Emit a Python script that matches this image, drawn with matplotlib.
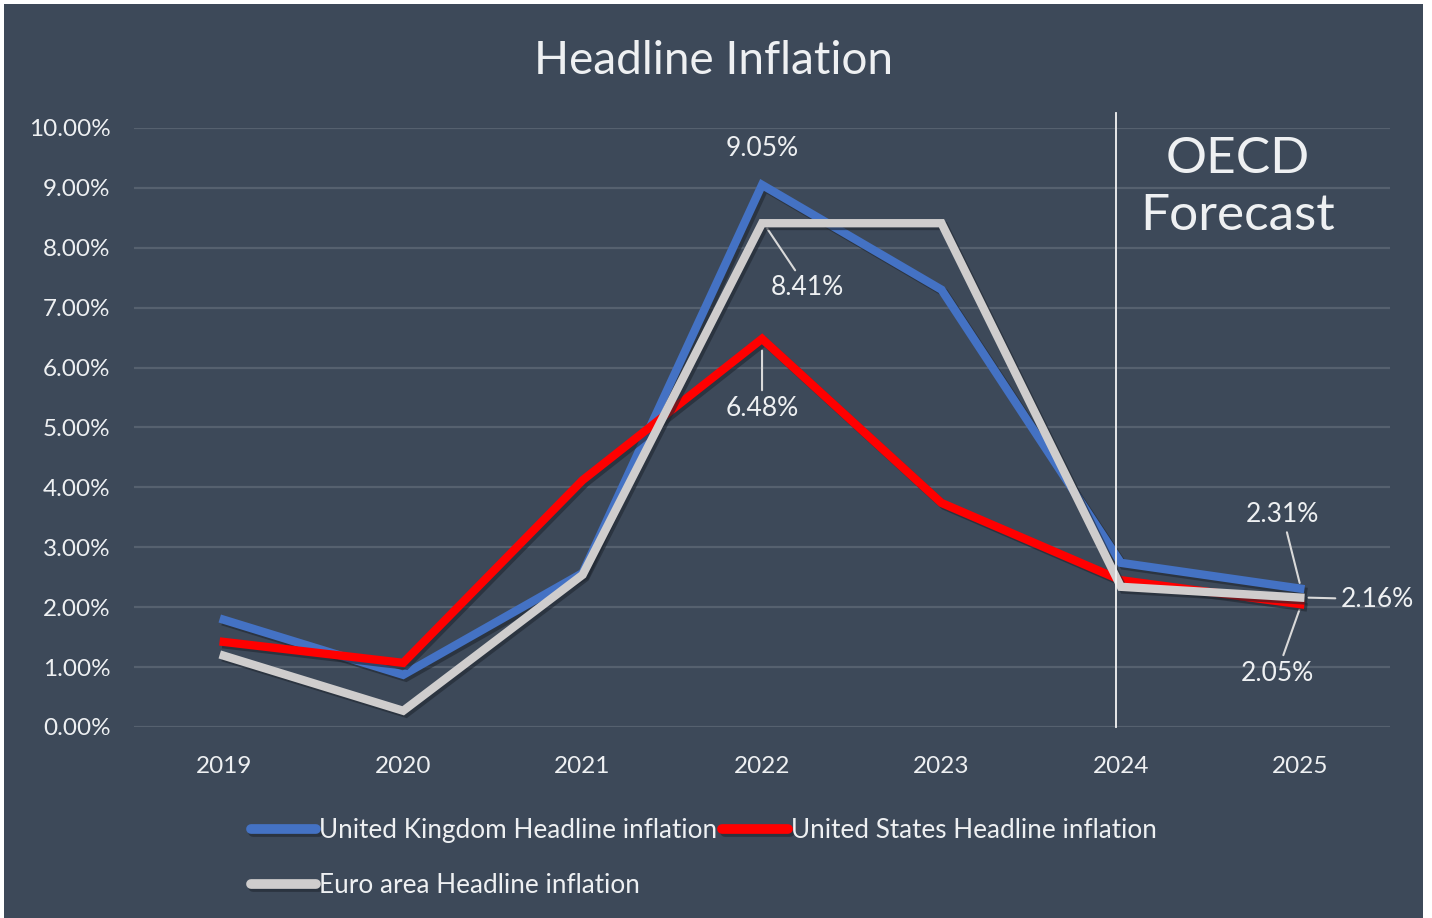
import matplotlib
matplotlib.use("Agg")
import matplotlib.pyplot as plt
import matplotlib.patheffects as pe
from matplotlib.patches import Rectangle

# =========================
# DATOS
# =========================
years = ["2019", "2020", "2021", "2022", "2023", "2024", "2025"]
uk = [1.79, 0.87, 2.57, 9.05, 7.30, 2.74, 2.31]
us = [1.42, 1.07, 4.12, 6.48, 3.74, 2.45, 2.05]
euro = [1.19, 0.27, 2.54, 8.41, 8.41, 2.34, 2.16]
yticks = [0, 1, 2, 3, 4, 5, 6, 7, 8, 9, 10]

BG = "#3d4959"
GRID = "#56616f"
TXT = "#eef0f2"
BLUE = "#4472c4"
RED = "#ff0000"
GREY = "#cfcdcd"

plt.rcParams["font.family"] = ["Lato", "DejaVu Sans"]

W, H = 1432, 918
fig = plt.figure(figsize=(W / 100, H / 100), dpi=100, facecolor="white")
# fondo oscuro con un pequeño margen blanco (arriba, izquierda, derecha)
fig.patches.append(Rectangle((4 / W, 0), (1423 - 4) / W, (H - 4) / H, transform=fig.transFigure,
                             facecolor=BG, edgecolor="none", zorder=-10))

ax = fig.add_axes([0.0936, 0.2081, 0.8771, 0.6525])
ax.set_facecolor(BG)

x = list(range(len(years)))
shadow = [pe.SimpleLineShadow(offset=(2, -2), shadow_color="#1f2630", alpha=0.6), pe.Normal()]
l_uk, = ax.plot(x, uk, color=BLUE, lw=6, solid_joinstyle="miter",
                label="United Kingdom Headline inflation", path_effects=shadow, zorder=3)
l_us, = ax.plot(x, us, color=RED, lw=6, solid_joinstyle="miter",
                label="United States Headline inflation", path_effects=shadow, zorder=4)
l_eu, = ax.plot(x, euro, color=GREY, lw=6, solid_joinstyle="miter",
                label="Euro area Headline inflation", path_effects=shadow, zorder=5)

ax.set_xlim(-0.5, len(years) - 0.5)
ax.set_ylim(0, 10)
ax.set_xticks(x)
ax.set_xticklabels(years)
ax.set_yticks(yticks)
ax.set_yticklabels([f"{v:.2f}%" for v in yticks])
ax.tick_params(colors=TXT, labelsize=17.5, length=0)
ax.tick_params(axis="x", pad=21)
ax.tick_params(axis="y", pad=17)
for s in ax.spines.values():
    s.set_visible(False)
ax.grid(axis="y", color=GRID, lw=1.6)
ax.set_axisbelow(True)

# linea de prevision
ax.plot([4.97, 4.97], [0, 10.25], color="#f4f4f4", lw=1.3, clip_on=False, zorder=6)
ax.text(5.65, 9.0, "OECD\nForecast", color=TXT, fontsize=37, ha="center", va="center",
        linespacing=1.3)

# etiquetas
lab = dict(color=TXT, fontsize=19, ha="center", va="center")
lead = dict(arrowstyle="-", color="#d9d9d9", lw=1.5)
ax.annotate(f"{uk[3]:.2f}%", (3, uk[3]), xytext=(3, 9.65), **lab)
ax.annotate(f"{euro[3]:.2f}%", (3.02, euro[3] - 0.05), xytext=(3.25, 7.33), arrowprops=lead, **lab)
ax.annotate(f"{us[3]:.2f}%", (3, us[3] - 0.15), xytext=(3, 5.32), arrowprops=lead, **lab)
ax.annotate(f"{uk[6]:.2f}%", (6, uk[6] + 0.05), xytext=(5.9, 3.55), arrowprops=lead, **lab)
ax.annotate(f"{euro[6]:.2f}%", (6.03, euro[6]), xytext=(6.43, 2.13), arrowprops=lead, **lab)
ax.annotate(f"{us[6]:.2f}%", (6, us[6] - 0.05), xytext=(5.87, 0.9), arrowprops=lead, **lab)

fig.text(0.4986, 0.934, "Headline Inflation", color=TXT, fontsize=33, ha="center", va="center")

# orden por columnas para que la fila 1 sea UK / US
leg = fig.legend([l_uk, l_eu, l_us], [l_uk.get_label(), l_eu.get_label(), l_us.get_label()],
                 loc="upper left", bbox_to_anchor=(0.175, 0.109), ncol=2, frameon=False,
                 fontsize=18.8, handlelength=2.5, handletextpad=0.12, columnspacing=0.2,
                 labelspacing=1.15, borderpad=0, borderaxespad=0)
for t in leg.get_texts():
    t.set_color(TXT)
for h in leg.legend_handles:
    h.set_linewidth(7)
    h.set_solid_capstyle("round")

fig.savefig("out.png", dpi=100, facecolor="white")
